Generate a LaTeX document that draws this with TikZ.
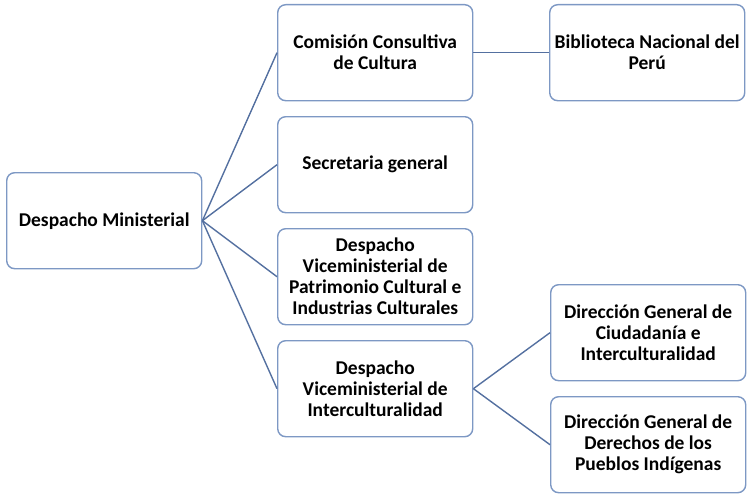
\documentclass[tikz,border=0pt]{standalone}
\usepackage{fontspec}
\setmainfont{Carlito}
\definecolor{boxline}{RGB}{125,152,196}
\definecolor{conn}{RGB}{84,112,160}
\begin{document}
\begin{tikzpicture}[x=1pt,y=-1pt,
  box/.style={draw=boxline,line width=1.4pt,rounded corners=8pt,fill=white,
    minimum width=195pt,minimum height=96pt,inner sep=0pt,anchor=north west,
    align=center,font=\fontsize{19.5}{21}\selectfont\bfseries},
  link/.style={draw=conn,line width=1.4pt}]
\useasboundingbox (0,0) rectangle (750,495);
\node[box] (dm) at (6,172) {Despacho Ministerial};
\node[box] (cc) at (277,4) {Comisión Consultiva\\de Cultura};
\node[box] (bn) at (549,4) {Biblioteca Nacional del\\Perú};
\node[box] (sg) at (277,116) {Secretaria general};
\node[box] (vp) at (277,228) {Despacho\\Viceministerial de\\Patrimonio Cultural e\\Industrias Culturales};
\node[box] (vi) at (277,340) {Despacho\\Viceministerial de\\Interculturalidad};
\node[box] (dc) at (550,284) {Dirección General de\\Ciudadanía e\\Interculturalidad};
\node[box] (dd) at (550,396) {Dirección General de\\Derechos de los\\Pueblos Indígenas};
\draw[link] (dm.east) -- (cc.west);
\draw[link] (dm.east) -- (sg.west);
\draw[link] (dm.east) -- (vp.west);
\draw[link] (dm.east) -- (vi.west);
\draw[link] (cc.east) -- (bn.west);
\draw[link] (vi.east) -- (dc.west);
\draw[link] (vi.east) -- (dd.west);
\end{tikzpicture}
\end{document}
